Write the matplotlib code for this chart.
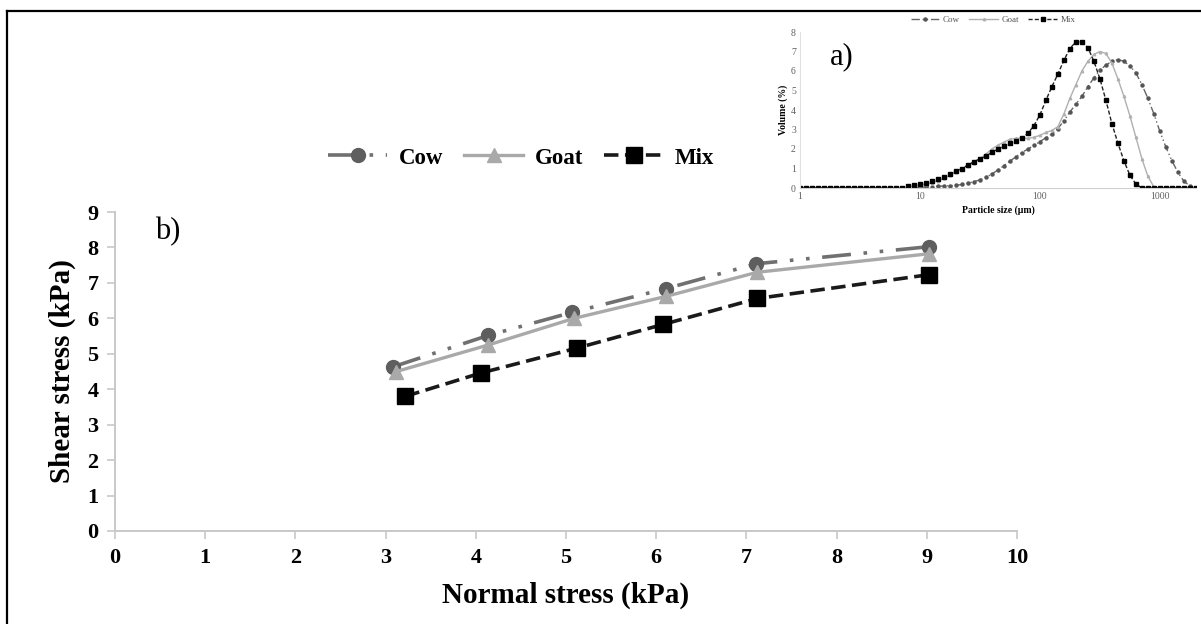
import matplotlib.pyplot as plt
from matplotlib.lines import Line2D

plt.rcParams['font.family'] = ['Liberation Serif', 'DejaVu Serif']

# main chart (b): shear vs normal stress
cow_x = [3.08, 4.14, 5.07, 6.11, 7.11, 9.02]
cow_y = [4.63, 5.52, 6.17, 6.84, 7.54, 8.02]
goat_x = [3.12, 4.14, 5.09, 6.11, 7.12, 9.02]
goat_y = [4.50, 5.25, 6.00, 6.62, 7.30, 7.82]
mix_x = [3.22, 4.06, 5.12, 6.08, 7.12, 9.02]
mix_y = [3.80, 4.46, 5.16, 5.83, 6.56, 7.23]

# inset chart (a): particle size distribution
sizes = [1.000, 1.122, 1.259, 1.413, 1.585, 1.778, 1.995, 2.239, 2.512, 2.818,
         3.162, 3.548, 3.981, 4.467, 5.012, 5.623, 6.310, 7.079, 7.943, 8.913,
         10.00, 11.22, 12.59, 14.13, 15.85, 17.78, 19.95, 22.39, 25.12, 28.18,
         31.62, 35.48, 39.81, 44.67, 50.12, 56.23, 63.10, 70.79, 79.43, 89.13,
         100.0, 112.2, 125.9, 141.3, 158.5, 177.8, 199.5, 223.9, 251.2, 281.8,
         316.2, 354.8, 398.1, 446.7, 501.2, 562.3, 631.0, 707.9, 794.3, 891.3,
         1000, 1122, 1259, 1413, 1585, 1778, 1995]
vol_cow = [0] * 18 + [0.0, 0.02, 0.03, 0.05, 0.07, 0.09, 0.10, 0.12, 0.14, 0.18,
                      0.25, 0.32, 0.42, 0.55, 0.72, 0.92, 1.15, 1.38, 1.60, 1.82,
                      2.00, 2.18, 2.38, 2.58, 2.78, 3.05, 3.45, 3.90, 4.30, 4.70,
                      5.20, 5.65, 6.05, 6.30, 6.50, 6.58, 6.50, 6.25, 5.90, 5.30,
                      4.60, 3.80, 2.90, 2.10, 1.40, 0.80, 0.35, 0.10, 0.02]
vol_goat = [0] * 18 + [0.05, 0.10, 0.15, 0.20, 0.28, 0.38, 0.50, 0.65, 0.82, 1.00,
                       1.15, 1.30, 1.50, 1.75, 2.00, 2.20, 2.35, 2.50, 2.55, 2.55,
                       2.55, 2.60, 2.70, 2.85, 2.95, 3.15, 3.80, 4.60, 5.30, 6.00,
                       6.50, 6.85, 7.00, 6.90, 6.40, 5.60, 4.70, 3.70, 2.60, 1.50,
                       0.60, 0.05, 0, 0, 0, 0, 0, 0, 0]
vol_mix = [0] * 18 + [0.08, 0.15, 0.20, 0.27, 0.36, 0.45, 0.56, 0.70, 0.85, 1.00,
                      1.18, 1.35, 1.50, 1.62, 1.85, 2.00, 2.15, 2.30, 2.40, 2.55,
                      2.80, 3.20, 3.75, 4.50, 5.20, 5.85, 6.55, 7.15, 7.50, 7.48,
                      7.20, 6.50, 5.60, 4.50, 3.30, 2.30, 1.40, 0.65, 0.20, 0,
                      0, 0, 0, 0, 0, 0, 0, 0, 0]

W, H = 1201, 624
fig = plt.figure(figsize=(W / 100, H / 100), dpi=100)

# frame around the picture (top and left edges visible)
fig.add_artist(Line2D([7 / W, 7 / W], [0, 1 - 11 / H], color='black', lw=1.6))
fig.add_artist(Line2D([7 / W, 1], [1 - 11 / H, 1 - 11 / H], color='black', lw=1.6))

ax = fig.add_axes([115 / W, 93 / H, 902 / W, 319 / H])
cow_col = '#5e5e5e'
goat_col = '#a9a9a9'
ax.plot(cow_x, cow_y, color='#707070', lw=2.6, ls=(0, (8, 3.5, 1, 3.5, 1, 3.5)),
        marker='o', ms=10, mfc=cow_col, mec=cow_col, label='Cow')
ax.plot(goat_x, goat_y, color=goat_col, lw=2.4, marker='^', ms=10,
        mfc=goat_col, mec=goat_col, label='Goat')
ax.plot(mix_x, mix_y, color='#1a1a1a', lw=2.6, ls=(0, (4, 1.8)),
        marker='s', ms=11, mfc='black', mec='black', label='Mix')

ax.set_xlim(0, 10)
ax.set_ylim(0, 9)
ax.set_xticks(range(0, 11))
ax.set_yticks(range(0, 10))
for s in ['top', 'right']:
    ax.spines[s].set_visible(False)
for s in ['left', 'bottom']:
    ax.spines[s].set_color('#c8c8c8')
    ax.spines[s].set_linewidth(1.4)
ax.tick_params(colors='#c8c8c8', labelcolor='black', length=6, width=1.2,
               labelsize=16, pad=6)
for lab in ax.get_xticklabels() + ax.get_yticklabels():
    lab.set_fontweight('bold')
ax.set_xlabel('Normal stress (kPa)', fontsize=21, fontweight='bold', labelpad=10)
ax.set_ylabel('Shear stress (kPa)', fontsize=21, fontweight='bold', labelpad=8)
ax.text(155 / W, 1 - 232 / H, 'b)', transform=fig.transFigure, fontsize=22,
        va='center', ha='left')

fig.legend(loc='center', bbox_to_anchor=(521 / W, 1 - 158 / H), ncol=3,
           frameon=False, handlelength=2.6, columnspacing=0.9, handletextpad=0.5,
           prop={'family': 'Liberation Serif', 'weight': 'bold', 'size': 16.5})

# inset
ax2 = fig.add_axes([800 / W, 436 / H, 396 / W, 156 / H])
ax2.plot(sizes, vol_cow, color='#666666', lw=1.0, ls=(0, (6, 2, 1, 2, 1, 2)),
         marker='o', ms=2.2, mfc='#555555', mec='#555555', label='Cow')
ax2.plot(sizes, vol_goat, color='#b0b0b0', lw=1.0, marker='^', ms=1.8,
         mfc='#b0b0b0', mec='#b0b0b0', label='Goat')
ax2.plot(sizes, vol_mix, color='#222222', lw=1.0, ls=(0, (3, 1.5)),
         marker='s', ms=2.6, mfc='black', mec='black', label='Mix')
ax2.set_xscale('log')
ax2.set_xlim(1, 2000)
ax2.set_ylim(0, 8)
ax2.set_xticks([1, 10, 100, 1000])
ax2.set_xticklabels(['1', '10', '100', '1000'])
ax2.minorticks_off()
ax2.set_yticks(range(0, 9))
for s in ['top', 'right']:
    ax2.spines[s].set_visible(False)
ax2.spines['left'].set_color('#e0e0e0')
ax2.spines['bottom'].set_color('#d0d0d0')
ax2.spines['left'].set_linewidth(0.8)
ax2.spines['bottom'].set_linewidth(0.8)
ax2.tick_params(length=0, labelsize=7, labelcolor='#606060', pad=3)
ax2.set_xlabel('Particle size (\u00b5m)', fontsize=7, fontweight='bold', labelpad=3)
ax2.set_ylabel('Volume (%)', fontsize=7, fontweight='bold', labelpad=2)
ax2.text(830 / W, 1 - 57 / H, 'a)', transform=fig.transFigure, fontsize=22,
         va='center', ha='left')
ax2.legend(loc='center', bbox_to_anchor=(993 / W, 1 - 20 / H),
           bbox_transform=fig.transFigure, ncol=3, frameon=False, fontsize=6.5,
           handlelength=3.2, columnspacing=1.0, handletextpad=0.4,
           labelcolor='#555555')

fig.savefig('out.png', dpi=100)
